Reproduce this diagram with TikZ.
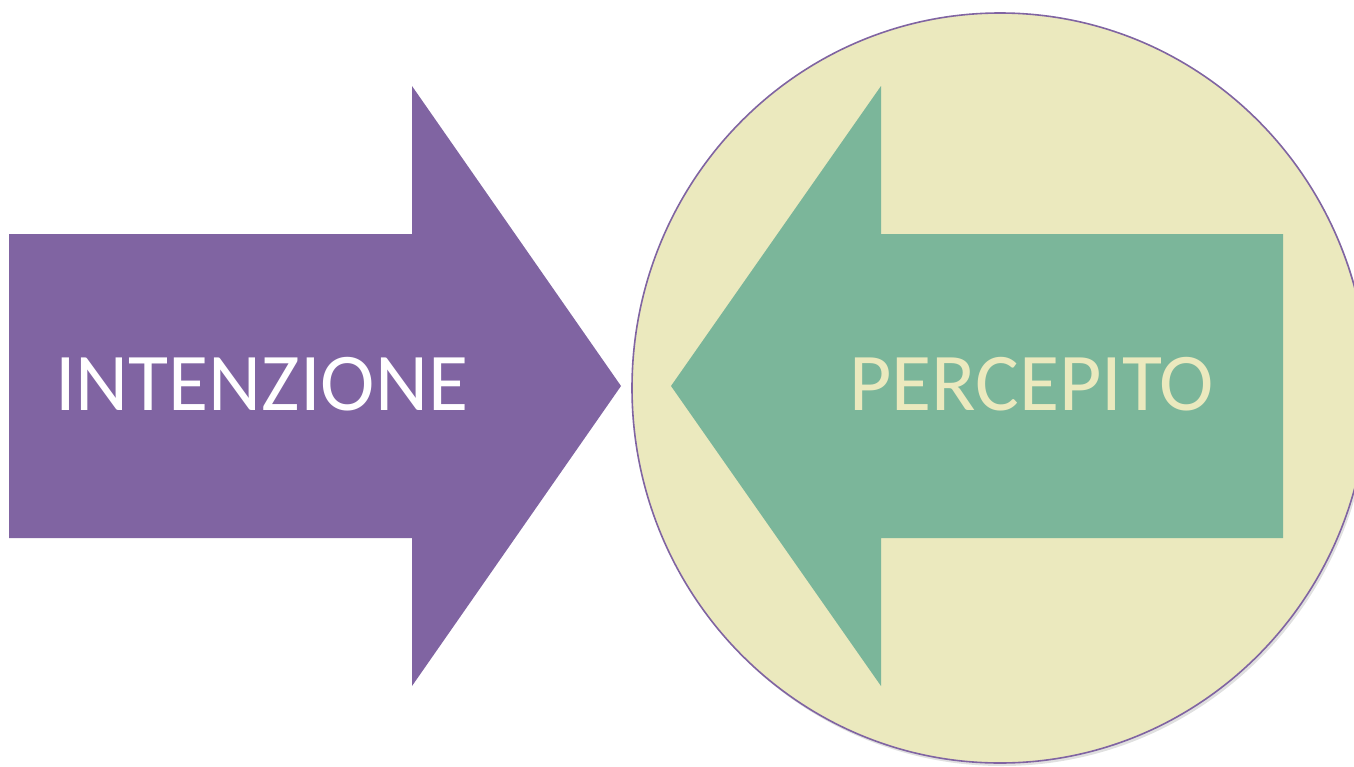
\documentclass[tikz,border=0pt]{standalone}
\usepackage{fontspec}
\setmainfont{Carlito}
\definecolor{arrowpurple}{HTML}{8064A2}
\definecolor{arrowgreen}{HTML}{7BB69A}
\definecolor{circlefill}{HTML}{EBE9BE}
\definecolor{perctext}{HTML}{EBE9BE}
\tikzset{
  lbl/.style={font=\fontsize{82}{90}\selectfont, inner sep=0pt, anchor=base west},
}
\begin{document}
\begin{tikzpicture}[x=1pt,y=-1pt]
\useasboundingbox (0,0) rectangle (1354,766);
% circle with soft shadow
\fill[black!12] (1002,391) ellipse [x radius=368, y radius=375];
\filldraw[fill=circlefill, draw=arrowpurple, line width=1.6pt] (1000,388) ellipse [x radius=368, y radius=375];
% purple arrow (right)
\fill[arrowpurple] (9,234) -- (412,234) -- (412,86) -- (621,386) -- (412,686) -- (412,538) -- (9,538) -- cycle;
% green arrow (left)
\fill[arrowgreen] (1283,234) -- (881,234) -- (881,86) -- (671,386) -- (881,686) -- (881,538) -- (1283,538) -- cycle;
\node[lbl, text=white] (intenzione) at (55,410) {INTENZIONE};
\node[lbl, text=perctext] (percepito) at (849,410) {PERCEPITO};
\end{tikzpicture}
\end{document}
